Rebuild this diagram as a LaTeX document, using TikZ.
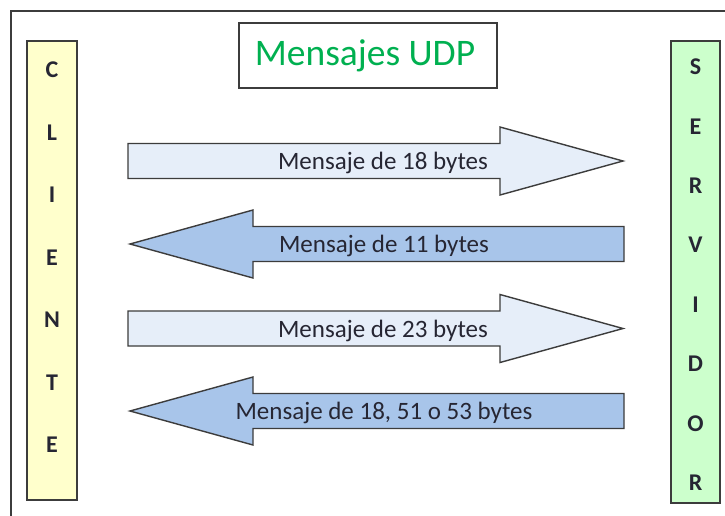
\documentclass[tikz,border=0pt]{standalone}
\usepackage{fontspec}
\setmainfont{Carlito}
\definecolor{edge}{HTML}{3C3C3C}
\definecolor{txt}{HTML}{262633}
\definecolor{clifill}{HTML}{FFFFCC}
\definecolor{srvfill}{HTML}{CCFFCC}
\definecolor{outfill}{HTML}{E6EEF9}
\definecolor{infill}{HTML}{A8C5EA}
\definecolor{titlegreen}{HTML}{00B050}

% Arrow pointing from the client to the server: #1 = vertical centre, #2 = label name, #3 = text
\newcommand\msgtoserver[3]{%
  \draw[msgshape, fill=outfill] (128,#1-17.5) -- (500,#1-17.5) -- (500,#1-34) -- (623,#1)
    -- (500,#1+34) -- (500,#1+17.5) -- (128,#1+17.5) -- cycle;
  \node[msgtext] (#2) at (383,#1+2) {#3};}
% Arrow pointing from the server back to the client
\newcommand\msgtoclient[3]{%
  \draw[msgshape, fill=infill] (624,#1-17.5) -- (253,#1-17.5) -- (253,#1-34) -- (130,#1)
    -- (253,#1+34) -- (253,#1+17.5) -- (624,#1+17.5) -- cycle;
  \node[msgtext] (#2) at (384,#1+2) {#3};}

\begin{document}
\begin{tikzpicture}[x=1pt, y=-1pt,
  frameline/.style={draw=edge, line width=2pt},
  sidebox/.style={draw=edge, line width=1.6pt},
  msgshape/.style={draw=edge, line width=1.4pt, line join=miter},
  msgtext/.style={font=\fontsize{25}{30}\selectfont, text=txt, inner sep=0pt},
  sideletter/.style={font=\fontsize{24}{28}\selectfont\bfseries, text=txt, inner sep=0pt},
  titletext/.style={font=\fontsize{37.5}{44}\selectfont, text=titlegreen, inner sep=0pt}]
  \useasboundingbox (0,0) rectangle (725,515);
  \clip (0,0) rectangle (725,515);
  \fill[white] (0,0) rectangle (725,515);

  % outer frame, running off the right and bottom edges
  \draw[frameline] (735,11) -- (11,11) -- (11,525);

  % title
  \draw[sidebox, fill=white] (239,23) rectangle (497,88);
  \node[titletext] (title) at (365,56) {Mensajes UDP};

  % client column
  \draw[sidebox, fill=clifill] (27,41) rectangle (77,500);
  \foreach \ch [count=\i] in {C,L,I,E,N,T,E}
    \node[sideletter] (cli\i) at (52,{70+62.5*(\i-1)}) {\ch};

  % server column
  \draw[sidebox, fill=srvfill] (671,41) rectangle (720,503);
  \foreach \ch [count=\i] in {S,E,R,V,I,D,O,R}
    \node[sideletter] (srv\i) at (695.5,{67+59.4*(\i-1)}) {\ch};

  % messages
  \msgtoserver{161}{m1}{Mensaje de 18 bytes}
  \msgtoclient{244}{m2}{Mensaje de 11 bytes}
  \msgtoserver{328.5}{m3}{Mensaje de 23 bytes}
  \msgtoclient{411}{m4}{Mensaje de 18, 51 o 53 bytes}
\end{tikzpicture}
\end{document}
